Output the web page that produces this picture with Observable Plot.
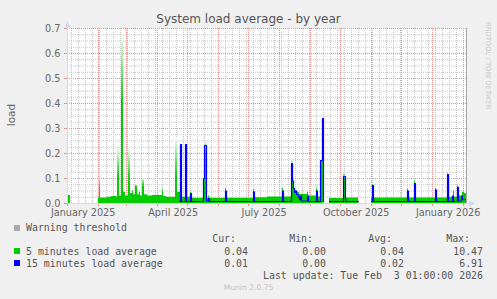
<!DOCTYPE html>
<html><head><meta charset="utf-8">
<script src="https://cdn.jsdelivr.net/npm/d3@7"></script>
<script src="https://cdn.jsdelivr.net/npm/@observablehq/plot@0.6"></script>
<style>
body{margin:0;background:#f0f0f0;}
#wrap{position:relative;width:497px;height:299px;background:#f0f0f0;overflow:hidden;font-family:"DejaVu Sans";color:#666;}
#wrap svg{position:absolute;left:0;top:0;}
.t{position:absolute;white-space:pre;line-height:1;}
.mono{font-family:"DejaVu Sans Mono";font-size:9.9px;line-height:9.9px;color:#555;}
.sq{position:absolute;width:6px;height:6px;}
</style></head><body><div id="wrap"></div>
<script>
// ---- data (days since 2025-01-01) ----
const greenDays = [0,3,3,31,32,33,40,44,49,50,52,54,56,58,61,63,65,66,68,70,72,73,75,77,80,85,95,96,99,108,110,113,123,124,136,138,140,141,142,158,159,186,187,200,215,216,224,226,228,230,232,240,241,249,250,253,256,256,262,276,278,291,291,304,305,306,340,341,347,348,368,369,380,381,386,387,390,391,395,397,399];
const greenVals = [.032,.032,NaN,.022,.05,.022,.025,.028,.026,.10,.03,.40,.045,.03,.09,.04,.05,.035,.07,.035,.045,.03,.07,.035,.03,.032,.045,.028,.025,.10,.045,.025,.045,.021,.10,.20,.021,.03,.021,.06,.021,.055,.023,.026,.06,.026,.12,.06,.05,.045,.036,.045,.03,.06,.026,.17,.17,NaN,.02,.10,.022,.022,NaN,.022,.075,.022,.057,.022,.08,.022,.06,.022,.11,.025,.05,.025,.065,.03,.045,.04,.045];
const blueDays = [112,113,114,118,119,123,124,136,137,139,141,142,158,159,186,187,215,216,224,225,226,227,228,229,231,232,233,234,240,241,249,250,253,255,256,256,262,276,278,291,291,304,305,306,340,341,347,348,368,369,380,381,385,386,390,391,394,395,399];
const blueVals = [.008,.236,.008,.236,.008,.04,.008,.1,.232,.01,.02,.008,.05,.008,.047,.008,.05,.008,.16,.09,.06,.045,.05,.035,.025,.015,.03,.01,.03,.008,.05,.008,.172,.34,.008,NaN,.008,.108,.008,.008,NaN,.008,.072,.008,.05,.008,.08,.008,.054,.008,.116,.008,.03,.008,.065,.01,.03,.015,.015];
// faded tops of the spikes
const peakDays   = [32,50,54,61,75,95,108,138,224,276,347,380,390];
const peakWidths = [1,2,2,2,2,1,2,2,2,2,1,1,1];
const peakBases  = [.05,.10,.40,.09,.07,.045,.10,.20,.12,.10,.08,.11,.065];
const peakTops   = [.118,.22,.67,.22,.10,.065,.26,.245,.18,.125,.10,.128,.08];
const xLabels = ["January 2025","April 2025","July 2025","October 2025","January 2026"];
const xLabelDates = ["2025-01-16T16:00Z","2025-04-16T16:00Z","2025-07-16T16:00Z","2025-10-16T16:00Z","2026-01-16T16:00Z"];
const yMajor = [0,0.1,0.2,0.3,0.4,0.5,0.6,0.7];
const legendNames = ["5 minutes load average","15 minutes load average"];
const legendColors = ["#00cc00","#0000ff"];
const legendCur = ["0.04","0.01"], legendMin = ["0.00","0.00"], legendAvg = ["0.04","0.02"], legendMax = ["10.47","6.91"];

const DAY = 86400000, T0 = Date.UTC(2025,0,1);
const D = d => new Date(T0 + d*DAY);
const green = greenDays.map((d,i)=>({t:D(d), v:greenVals[i]}));
const blue = blueDays.map((d,i)=>({t:D(d), v:blueVals[i]}));
const peaks = peakDays.flatMap((d,i)=>[
  {t:D(d), b:peakBases[i], top:peakTops[i], k:i},
  {t:D(d+peakWidths[i]), b:peakBases[i], top:peakTops[i], k:i}]);
const xDomain = [D(0), D(399)];
const months = d3.utcMonth.range(xDomain[0], xDomain[1]);
const weeks = d3.utcSunday.range(xDomain[0], xDomain[1]);
const yMinor = d3.range(0, 0.7001, 0.025).filter(v => Math.abs(v*10 - Math.round(v*10)) > 1e-6);
const labels = xLabelDates.map((s,i)=>({t:new Date(s), label:xLabels[i]}));

const GRID = "#c4c4c4", MGRID = "#e39090", AXIS = "#CFD6F8";
const chart = Plot.plot({
  width: 497, height: 222,
  marginTop: 28, marginBottom: 19, marginLeft: 67, marginRight: 31,
  x: {type: "utc", domain: xDomain, axis: null},
  y: {domain: [0, 0.7], axis: null},
  style: {fontFamily: "DejaVu Sans", fontSize: "9.7px", color: "#666", background: "transparent", overflow: "visible"},
  marks: [
    Plot.frame({fill: "#ffffff", stroke: null}),
    Plot.ruleY(yMinor, {stroke: GRID, strokeDasharray: "1,1"}),
    Plot.ruleX(weeks, {stroke: GRID, strokeDasharray: "1,1"}),
    Plot.ruleY(yMajor, {stroke: MGRID, strokeDasharray: "1,1"}),
    Plot.ruleX(months, {stroke: MGRID, strokeDasharray: "1,1"}),
    Plot.areaY(green, {x: "t", y1: 0, y2: "v", curve: "step-after", fill: "#00cc00"}),
    Plot.areaY(peaks, {x: "t", y1: "b", y2: "top", z: "k", fill: "url(#fade)"}),
    Plot.lineY(blue, {x: "t", y: "v", curve: "step-after", stroke: "#0000ff", strokeWidth: 1.2}),
    Plot.ruleX([xDomain[1]], {stroke: "#a8a8a8"}),
    Plot.axisY(yMajor, {tickSize: 3, tickPadding: 4, stroke: MGRID, fill: "#666", tickFormat: d3.format(".1f"), label: null}),
    Plot.axisX(months, {tickSize: 3, stroke: MGRID, tickFormat: () => null, label: null}),
    Plot.text(labels, {x: "t", text: "label", frameAnchor: "bottom", lineAnchor: "top", dy: 5.5, fill: "#666"}),
    Plot.ruleX([xDomain[0]], {y1: 0, y2: 0.725, stroke: AXIS}),
    Plot.ruleY([0], {x1: xDomain[0], x2: D(406), stroke: AXIS}),
    Plot.dot([xDomain[0]], {x: d => d, y: 0.711, symbol: "triangle", r: 2.3, fill: AXIS, stroke: null}),
    Plot.dot([0], {x: () => D(403.5), y: d => d, symbol: "triangle", r: 2.3, rotate: 90, fill: AXIS, stroke: null})
  ]
});
const svg = d3.select(chart);
const g = svg.insert("defs", ":first-child").append("linearGradient")
  .attr("id", "fade").attr("x1", 0).attr("y1", 0).attr("x2", 0).attr("y2", 1);
g.append("stop").attr("offset", "0%").attr("stop-color", "#f0fbf0");
g.append("stop").attr("offset", "100%").attr("stop-color", "#00cc00");

const wrap = document.getElementById("wrap");
wrap.appendChild(chart);
function addText(txt, cls, css){ const e=document.createElement("div"); e.className="t "+cls; e.textContent=txt; Object.assign(e.style, css); wrap.appendChild(e); return e; }
function sq(color, y){ const e=document.createElement("div"); e.className="sq"; Object.assign(e.style,{left:"14px",top:y+"px",background:color}); wrap.appendChild(e); }
// title
addText("System load average - by year", "", {left:"0px", width:"497px", textAlign:"center", top:"13.3px", fontSize:"12px", color:"#555"});
// y label
addText("load", "", {left:"10.5px", top:"115px", fontSize:"10.5px", transform:"translate(-50%,-50%) rotate(-90deg)"});
// side credit
addText("RRDTOOL / TOBI OETIKER", "", {left:"484px", top:"22px", fontSize:"6.8px", lineHeight:"7px", writingMode:"vertical-rl", color:"#c8c8c8"});
// legend
const B = [231, 242.8, 255, 267.2, 279.2];
const topOf = b => (b - 0.846*9.9) + "px";
sq("#aaaaaa", 225);
addText("Warning threshold", "mono", {left:"26px", top: topOf(B[0])});
[["Cur:",236],["Min:",313],["Avg:",392],["Max:",470]].forEach(([s,x])=>addText(s,"mono",{right:(497-x)+"px", top: topOf(B[1])}));
legendNames.forEach((n,i)=>{
  sq(legendColors[i], 248 + i*12.3);
  addText(n, "mono", {left:"26px", top: topOf(B[2+i])});
  [[legendCur[i],248],[legendMin[i],326],[legendAvg[i],404],[legendMax[i],483]].forEach(([s,x])=>addText(s,"mono",{right:(497-x)+"px", top: topOf(B[2+i])}));
});
addText("Last update: Tue Feb  3 01:00:00 2026", "mono", {right:(497-483)+"px", top: topOf(B[4])});
addText("Munin 2.0.75", "", {left:"0px", width:"497px", textAlign:"center", top:(290.3-0.846*7.6)+"px", fontSize:"7.6px", color:"#c4c4c4"});
</script></body></html>
